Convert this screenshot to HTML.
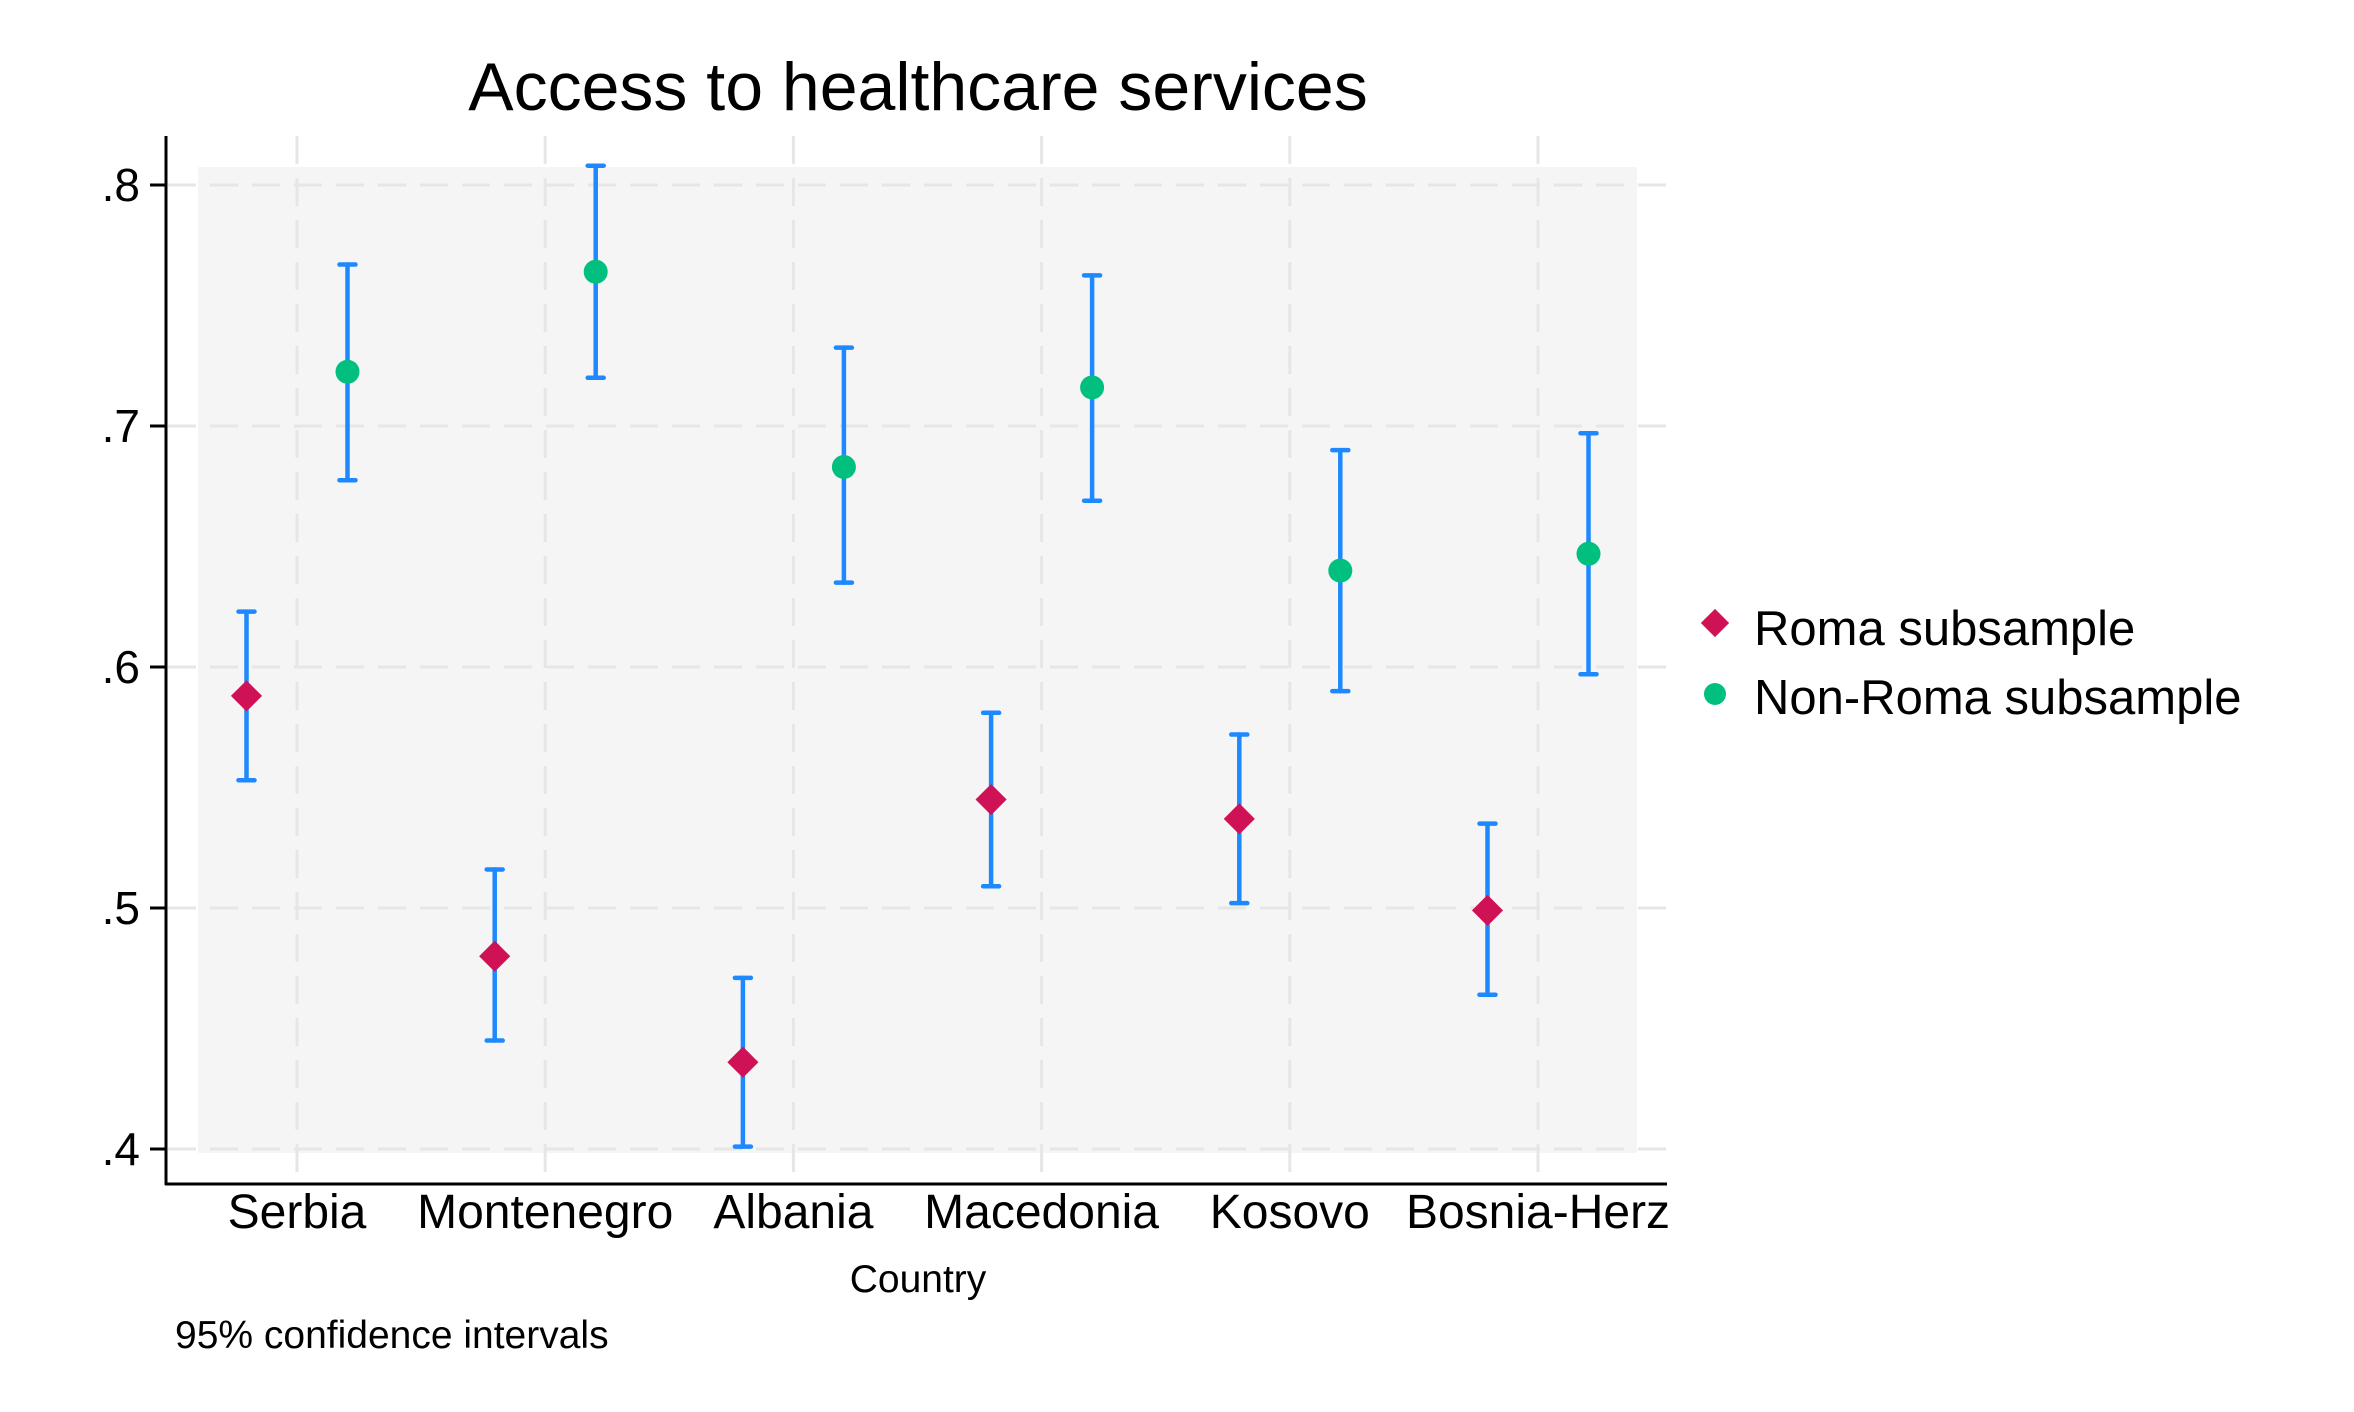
<!DOCTYPE html>
<html><head><meta charset="utf-8"><style>
html,body{margin:0;padding:0;background:#fff;}
svg{display:block;font-family:"Liberation Sans",sans-serif;}
</style></head><body>
<svg id="chart" width="2354" height="1412" viewBox="0 0 2354 1412">
<rect x="0" y="0" width="2354" height="1412" fill="#fff"/>
<text x="918" y="110" font-size="68" text-anchor="middle" fill="#000">Access to healthcare services</text>
<rect x="198" y="167" width="1439" height="986" fill="#f5f5f5"/>
<g id="grid"></g>
<g id="axes"></g>
<g id="marks"></g>
<text x="918" y="1292" font-size="39" text-anchor="middle" fill="#000">Country</text>
<text x="175" y="1348" font-size="39" fill="#000">95% confidence intervals</text>
<g>
<rect x="1705" y="613" width="20" height="20" fill="#cf1256" transform="rotate(45 1715 623)"/>
<text x="1754" y="645" font-size="49" fill="#000">Roma subsample</text>
<circle cx="1715" cy="694" r="11" fill="#00bf7f"/>
<text x="1754" y="714" font-size="49" fill="#000">Non-Roma subsample</text>
</g>
</svg>
<script>
const categories = ["Serbia","Montenegro","Albania","Macedonia","Kosovo","Bosnia-Herz"];
const romaMean = [0.588,0.480,0.436,0.545,0.537,0.499];
const romaLo = [0.553,0.445,0.401,0.509,0.502,0.464];
const romaHi = [0.623,0.516,0.471,0.581,0.572,0.535];
const nonMean = [0.7225,0.764,0.683,0.716,0.640,0.647];
const nonLo = [0.6775,0.720,0.635,0.669,0.590,0.597];
const nonHi = [0.767,0.808,0.7325,0.7625,0.690,0.697];
const yTicks = [0.4,0.5,0.6,0.7,0.8];
const yTickLabels = [".4",".5",".6",".7",".8"];

const NS = "http://www.w3.org/2000/svg";
function y(v){ return 185 + (0.8 - v) / 0.4 * 964; }
function x(i){ return 297 + i * 248.2; }
const OFF = 50.5;
function mk(tag, attrs, parent){
  const e = document.createElementNS(NS, tag);
  for (const k in attrs) e.setAttribute(k, attrs[k]);
  parent.appendChild(e);
  return e;
}
const grid = document.getElementById('grid');
const axes = document.getElementById('axes');
const marks = document.getElementById('marks');

yTicks.forEach((t, i) => {
  const g = mk('line', {x1:168, x2:1667, y1:y(t), y2:y(t), stroke:'#e6e6e6', 'stroke-width':3, 'stroke-dasharray':'28 14'}, grid);
  
  
  const tk = mk('line', {x1:150, x2:166, y1:y(t), y2:y(t), stroke:'#000', 'stroke-width':3}, axes);
  
  
  const lb = mk('text', {x:140, y:y(t) + 16, 'font-size':46, 'text-anchor':'end', fill:'#000'}, axes);
  lb.textContent = yTickLabels[i];
  
  
});
categories.forEach((c, i) => {
  const g = mk('line', {x1:x(i), x2:x(i), y1:136, y2:1183, stroke:'#e6e6e6', 'stroke-width':3, 'stroke-dasharray':'28 14'}, grid);
  
  
  const lb = mk('text', {x:x(i), y:1228, 'font-size':48, 'text-anchor':'middle', fill:'#000'}, axes);
  lb.textContent = c;
  
  
});
const ya = mk('line', {x1:166, x2:166, y1:136, y2:1185, stroke:'#000', 'stroke-width':3}, axes);


const xa = mk('line', {x1:165, x2:1667, y1:1184, y2:1184, stroke:'#000', 'stroke-width':3}, axes);



function errbar(cx, lo, hi, name){
  const g = mk('g', {stroke:'#1e88ff', 'stroke-width':4.5, 'stroke-linecap':'round'}, marks);
  
  
  mk('line', {x1:cx, x2:cx, y1:y(hi), y2:y(lo)}, g);
  mk('line', {x1:cx-8, x2:cx+8, y1:y(hi), y2:y(hi)}, g);
  mk('line', {x1:cx-8, x2:cx+8, y1:y(lo), y2:y(lo)}, g);
}
categories.forEach((c, i) => {
  const rx = x(i) - OFF, nx = x(i) + OFF;
  errbar(rx, romaLo[i], romaHi[i], 'roma-ci');
  errbar(nx, nonLo[i], nonHi[i], 'nonroma-ci');
  const d = mk('rect', {x:rx-11, y:y(romaMean[i])-11, width:22, height:22, fill:'#cf1256', transform:'rotate(45 ' + rx + ' ' + y(romaMean[i]) + ')'}, marks);
  
  
  const p = mk('circle', {cx:nx, cy:y(nonMean[i]), r:12, fill:'#00bf7f'}, marks);
  
  
});
</script>
</body></html>
